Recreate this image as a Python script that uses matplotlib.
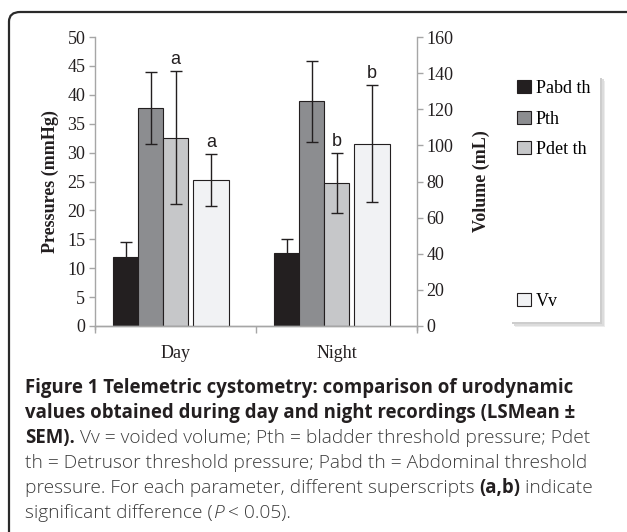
import matplotlib
matplotlib.use("Agg")
import matplotlib.pyplot as plt
from matplotlib.patches import Rectangle, FancyBboxPatch, Patch
import numpy as np

# ---------------- DATA ----------------
categories = ["Day", "Night"]
pabd_th = [12.0, 12.7]
pabd_err = [2.5, 2.4]
pth = [37.7, 38.9]
pth_err = [6.2, 7.0]
pdet_th = [32.6, 24.8]
pdet_err = [11.5, 5.2]
vv = [81.0, 101.0]
vv_err = [14.5, 32.6]
pdet_letters = ["a", "b"]
vv_letters = ["a", "b"]

# ---------------- STYLE ----------------
W, H = 627, 532
SERIF = "Liberation Serif"
CAP = "Open Sans"
INK = "#231f20"
AXIS_GRAY = "#a6a6a6"
COLORS = {"Pabd th": "#231f20", "Pth": "#8c8d90", "Pdet th": "#c6c7c9", "Vv": "#f1f2f4"}


def fx(px):
    return px / W


def fy(py):
    return 1 - py / H


fig = plt.figure(figsize=(W / 100, H / 100), dpi=100)
fig.patch.set_facecolor("white")

# rounded frame (top and left only visible)
frame = FancyBboxPatch((fx(9), fy(H + 40)), fx(W + 40), fy(12) - fy(H + 40),
                       boxstyle="round,pad=0,rounding_size=0.018",
                       transform=fig.transFigure, facecolor="none",
                       edgecolor="#2a2a2a", lw=1.6, clip_on=False)
fig.patches.append(frame)

ax = fig.add_axes([fx(95), fy(326), fx(417) - fx(95), fy(37) - fy(326)])
ax2 = ax.twinx()

x = np.arange(len(categories))
w = 0.155
err_kw = dict(ecolor=INK, elinewidth=1.0, capsize=4, capthick=1.0)

ax.bar(x - 0.31, pabd_th, w, yerr=pabd_err, color=COLORS["Pabd th"],
       edgecolor=INK, lw=0.8, error_kw=err_kw, zorder=2)
ax.bar(x - 0.155, pth, w, yerr=pth_err, color=COLORS["Pth"],
       edgecolor=INK, lw=0.8, error_kw=err_kw, zorder=2)
ax.bar(x, pdet_th, w, yerr=pdet_err, color=COLORS["Pdet th"],
       edgecolor=INK, lw=0.8, error_kw=err_kw, zorder=2)
ax2.bar(x + 0.22, vv, 0.22, yerr=vv_err, color=COLORS["Vv"],
        edgecolor=INK, lw=0.8, error_kw=err_kw, zorder=2)

for i in range(len(categories)):
    ax.annotate(pdet_letters[i], (x[i], pdet_th[i] + pdet_err[i]),
                xytext=(0, 2), textcoords="offset points", ha="center",
                va="bottom", fontsize=13, family="Liberation Sans", color=INK)
    ax2.annotate(vv_letters[i], (x[i] + 0.22, vv[i] + vv_err[i]),
                 xytext=(0, 2), textcoords="offset points", ha="center",
                 va="bottom", fontsize=13, family="Liberation Sans", color=INK)

ax.set_xlim(-0.5, 1.5)
ax.set_ylim(0, 50)
ax2.set_ylim(0, 160)
ax.set_yticks(np.arange(0, 51, 5))
ax2.set_yticks(np.arange(0, 161, 20))
ax.set_xticks([-0.5, 0.5, 1.5])
ax.set_xticklabels([])
ax.set_xticks(x, minor=True)
ax.set_xticklabels(categories, minor=True)
ax.tick_params(axis="x", which="major", length=5, color=AXIS_GRAY, width=1)
ax.tick_params(axis="x", which="minor", length=0, pad=14)

for a in (ax, ax2):
    for s in a.spines.values():
        s.set_color(AXIS_GRAY)
        s.set_linewidth(1.0)
    a.spines["top"].set_visible(False)
    a.set_facecolor("none")
    a.tick_params(axis="y", length=4, color=AXIS_GRAY, width=1, pad=3)
    for lab in a.get_xticklabels(minor=True) + a.get_yticklabels():
        lab.set_fontfamily(SERIF)
        lab.set_fontsize(13)
        lab.set_color(INK)
ax.spines["right"].set_visible(False)
ax2.spines["left"].set_visible(False)
ax.spines["left"].set_bounds(-0.6, 50)
ax2.spines["right"].set_bounds(-2, 160)

ax.set_ylabel("Pressures (mmHg)", fontfamily=SERIF, fontsize=13,
              fontweight="bold", color=INK, labelpad=6)
ax2.set_ylabel("Volume (mL)", fontfamily=SERIF, fontsize=13,
               fontweight="bold", color=INK, labelpad=14)

# legend box with soft shadow
for off, col in [(5, "#ececec"), (3.5, "#dcdcdc"), (2, "#cdcdcd")]:
    sh = Rectangle((fx(510 + off), fy(322 + off)), fx(600) - fx(510),
                   fy(76) - fy(322), transform=fig.transFigure,
                   facecolor=col, edgecolor="none", zorder=5)
    fig.patches.append(sh)
box = Rectangle((fx(510), fy(322)), fx(600) - fx(510), fy(76) - fy(322),
                transform=fig.transFigure, facecolor="white",
                edgecolor="none", zorder=6)
fig.patches.append(box)

leg_kw = dict(frameon=False, prop={"family": SERIF, "size": 13},
              handlelength=0.75, handleheight=0.75, handletextpad=0.3,
              labelspacing=0.75, borderaxespad=0, borderpad=0)
h1 = [Patch(facecolor=COLORS[k], edgecolor=INK, lw=0.8) for k in ["Pabd th", "Pth", "Pdet th"]]
leg1 = fig.legend(h1, ["Pabd th", "Pth", "Pdet th"], loc="upper left",
                  bbox_to_anchor=(fx(517), fy(80)), **leg_kw)
leg1.set_zorder(7)
h2 = [Patch(facecolor=COLORS["Vv"], edgecolor=INK, lw=0.8)]
leg2 = fig.legend(h2, ["Vv"], loc="upper left",
                  bbox_to_anchor=(fx(517), fy(293)), **leg_kw)
leg2.set_zorder(7)

# caption
renderer = fig.canvas.get_renderer()
bold = dict(fontweight="bold", color="#231f20", fontsize=13.4)
reg = dict(fontweight="light", color="#3b3b3b", fontsize=13.8)
ital = dict(fontweight="light", style="italic", color="#3b3b3b", fontsize=13.8)

lines = [
    [("Figure 1 Telemetric cystometry: comparison of urodynamic", bold)],
    [("values obtained during day and night recordings (LSMean \u00b1", bold)],
    [("SEM).", bold), (" Vv = voided volume; Pth = bladder threshold pressure; Pdet", reg)],
    [("th = Detrusor threshold pressure; Pabd th = Abdominal threshold", reg)],
    [("pressure. For each parameter, different superscripts ", reg), ("(a,b)", bold), (" indicate", reg)],
    [("significant difference (", reg), ("P", ital), (" < 0.05).", reg)],
]
y0, dy = 388, 25
for i, parts in enumerate(lines):
    xpos = 25
    for txt, kw in parts:
        t = fig.text(fx(xpos), fy(y0 + i * dy), txt, family=CAP,
                     va="center", ha="left", **kw)
        xpos += t.get_window_extent(renderer).width

fig.savefig("out.png", dpi=100)
